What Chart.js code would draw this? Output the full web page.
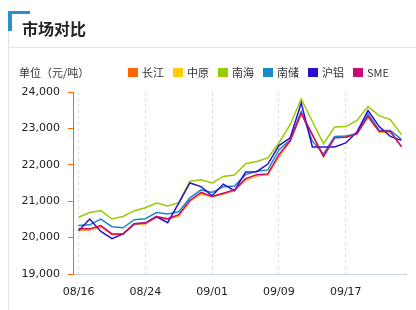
<!DOCTYPE html>
<html>
<head>
<meta charset="utf-8">
<script src="https://cdn.jsdelivr.net/npm/chart.js@4"></script>
<style>
    html, body { margin: 0; padding: 0; background: #fff; }
    #wrap { position: relative; width: 416px; height: 310px; overflow: hidden; font-family: "DejaVu Sans", "Noto Sans CJK SC", sans-serif; }
    #chart { position: absolute; left: 0; top: 0; }
    .frame-left { position: absolute; left: 8px; top: 14px; width: 1px; height: 300px; background: #e3e3e3; }
    .frame-bottom { position: absolute; left: 8px; top: 47px; width: 408px; height: 1px; background: #e6e6e6; }
    .corner-h { position: absolute; left: 8px; top: 11px; width: 22px; height: 3px; background: #2b8fd4; }
    .corner-v { position: absolute; left: 8px; top: 11px; width: 4px; height: 20px; background: #2b8fd4; }
    .title { position: absolute; left: 22px; top: 19px; font: bold 16px "Noto Sans CJK SC", sans-serif; color: #222; line-height: 18px; }
    .unit { position: absolute; left: 19px; top: 64px; font: 11px "Noto Sans CJK SC", sans-serif; color: #333; line-height: 16px; }
    #legend { position: absolute; left: 128px; top: 64px; display: flex; align-items: center; font: 11px "Noto Sans CJK SC", "DejaVu Sans", sans-serif; color: #333; line-height: 16px; }
    #legend span.box { display: inline-block; width: 10px; height: 9px; margin-right: 4px; }
    #legend span.item { display: inline-flex; align-items: center; margin-right: 9px; }
</style>
</head>
<body>
<div id="wrap">
    <canvas id="chart" width="416" height="310"></canvas>
    <div class="frame-left"></div>
    <div class="frame-bottom"></div>
    <div class="corner-h"></div>
    <div class="corner-v"></div>
    <div class="title">市场对比</div>
    <div class="unit">单位（元/吨）</div>
    <div id="legend"></div>
</div>
<script>
// Data
const dates = ['08/16','08/17','08/18','08/19','08/20','08/23','08/24','08/25','08/26','08/27',
               '08/30','08/31','09/01','09/02','09/03','09/06','09/07','09/08','09/09','09/10',
               '09/13','09/14','09/15','09/16','09/17','09/18','09/22','09/23','09/24','09/27'];

const names = ['长江', '中原', '南海', '南储', '沪铝', 'SME'];
const colors = ['#ff6600', '#ffcc00', '#99cc00', '#1a8acb', '#2a10cc', '#cc0a77'];

const changjiang = [20210, 20210, 20300, 20080, 20100, 20360, 20380, 20560, 20500, 20600,
                    21000, 21200, 21120, 21200, 21290, 21580, 21700, 21730, 22230, 22640,
                    23400, 22820, 22230, 22760, 22760, 22850, 23320, 22900, 22900, 22500];
const zhongyuan  = [20220, 20220, 20310, 20090, 20110, 20370, 20390, 20570, 20510, 20610,
                    21010, 21210, 21130, 21210, 21300, 21590, 21710, 21740, 22250, 22650,
                    23410, 22830, 22240, 22770, 22770, 22860, 23330, 22910, 22910, 22510];
const nanhai     = [20560, 20690, 20740, 20510, 20580, 20740, 20820, 20950, 20870, 20960,
                    21550, 21590, 21500, 21680, 21720, 22030, 22090, 22190, 22600, 23100,
                    23810, 23190, 22580, 23040, 23050, 23220, 23600, 23350, 23240, 22830];
const nanchu     = [20330, 20350, 20510, 20300, 20270, 20490, 20520, 20690, 20650, 20710,
                    21090, 21310, 21240, 21400, 21420, 21730, 21820, 21860, 22410, 22690,
                    23470, 22650, 22300, 22780, 22790, 22850, 23400, 22950, 22940, 22700];
const hulv       = [20190, 20510, 20170, 19970, 20100, 20380, 20400, 20580, 20410, 20950,
                    21500, 21400, 21150, 21470, 21290, 21800, 21810, 22020, 22530, 22740,
                    23700, 22490, 22490, 22490, 22600, 22900, 23490, 23050, 22780, 22670];
const sme        = [20240, 20240, 20330, 20100, 20100, 20380, 20400, 20580, 20520, 20630,
                    21020, 21240, 21130, 21220, 21310, 21620, 21730, 21750, 22280, 22660,
                    23420, 22830, 22230, 22740, 22760, 22850, 23330, 22920, 22920, 22500];

const series = [changjiang, zhongyuan, nanhai, nanchu, hulv, sme];

// Legend
const legend = document.getElementById('legend');
legend.innerHTML = names.map((n, i) =>
    `<span class="item"><span class="box" style="background:${colors[i]}"></span>${n}</span>`
).join('');

const tickFont = { family: "'DejaVu Sans', sans-serif", size: 11 };

new Chart(document.getElementById('chart'), {
    type: 'line',
    data: {
        labels: dates,
        datasets: series.map((values, i) => ({
            label: names[i],
            data: values,
            borderColor: colors[i],
            backgroundColor: colors[i],
            borderWidth: 1.5,
            pointRadius: 0,
            tension: 0,
            order: series.length - i
        }))
    },
    options: {
        responsive: false,
        animation: false,
        layout: { padding: { top: 92, right: 9, left: 0, bottom: 0 } },
        plugins: {
            legend: { display: false },
            tooltip: { enabled: false }
        },
        scales: {
            x: {
                offset: true,
                afterBuildTicks: (scale) => {
                    scale.ticks = scale.ticks.filter((t, i) => i % 6 === 0);
                },
                afterFit: (scale) => { scale.height = 36; },
                grid: {
                    color: '#dcdcdc',
                    drawTicks: false,
                    offset: false
                },
                border: { display: false, dash: [3, 3] },
                ticks: {
                    autoSkip: false,
                    maxRotation: 0,
                    padding: 12,
                    color: '#222',
                    font: tickFont
                }
            },
            y: {
                min: 19000,
                max: 24000,
                afterFit: (scale) => { scale.width = 73; },
                grid: {
                    // only the 19,000 line is shown, as the solid bottom axis line
                    color: (ctx) => ctx.tick && ctx.tick.value === 19000 ? '#c8d0d8' : 'rgba(0,0,0,0)',
                    drawTicks: true,
                    tickLength: 5,
                    tickColor: '#ff6600'
                },
                border: { color: '#ff6600', width: 1 },
                ticks: {
                    stepSize: 1000,
                    padding: 8,
                    color: '#222',
                    font: tickFont,
                    callback: (v) => v.toLocaleString('en-US')
                }
            }
        }
    }
});
</script>
</body>
</html>
